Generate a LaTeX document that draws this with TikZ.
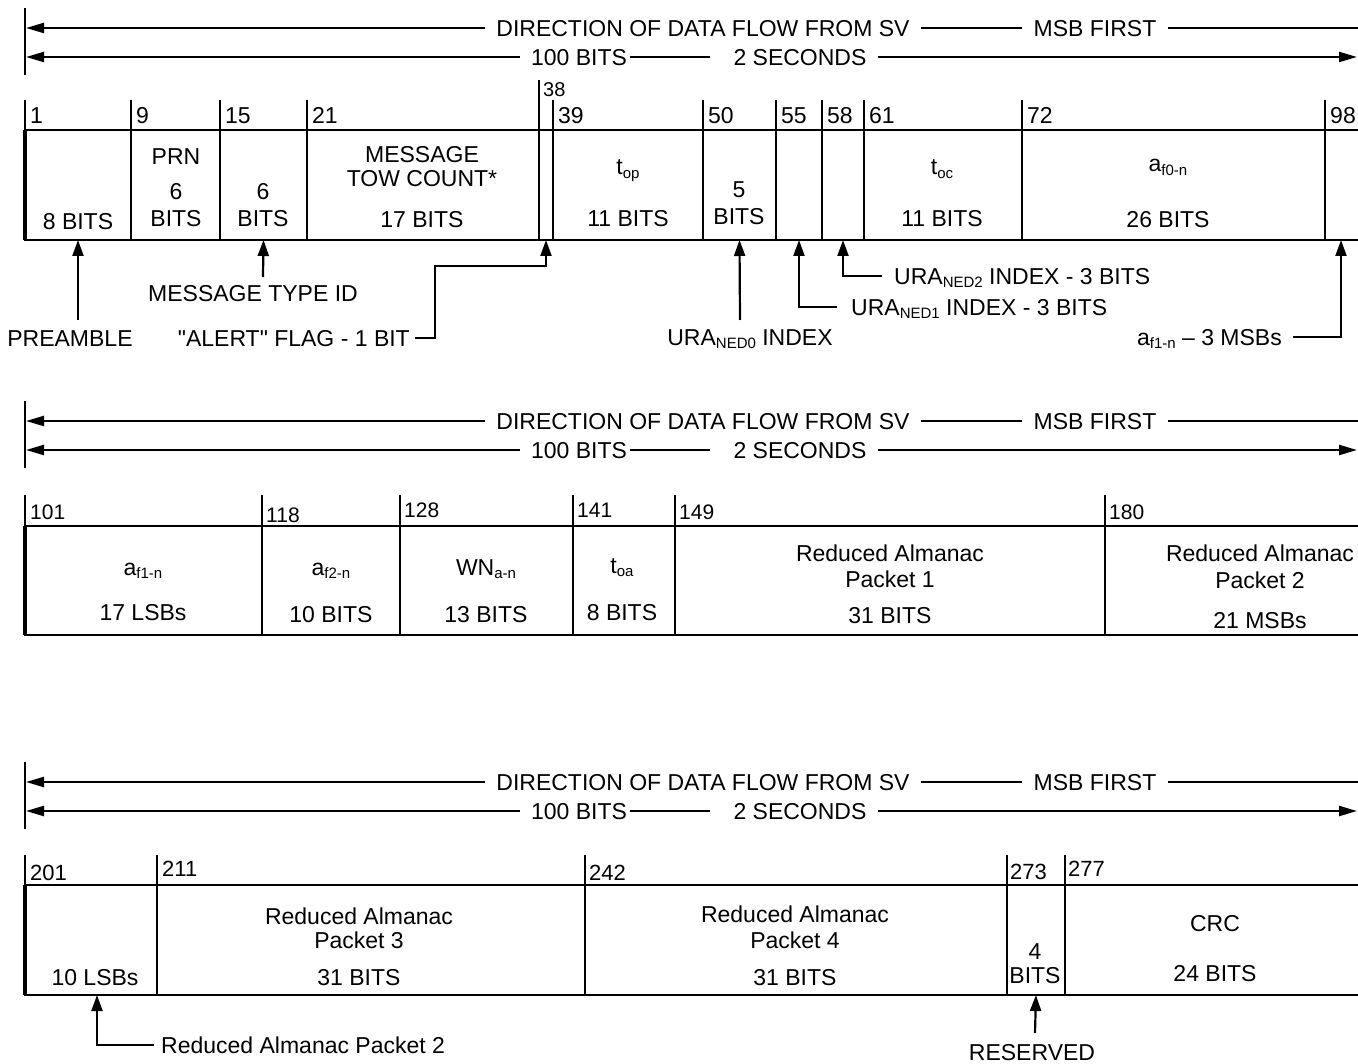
\documentclass[tikz,border=0pt]{standalone}
\usepackage{fontspec}
\setmainfont{Liberation Sans}[Ligatures=TeXOff]
\usetikzlibrary{arrows.meta}
\newcommand\sbs[1]{\raisebox{-3.5pt}{\fontsize{15}{15}\selectfont #1}}
\newcommand\fcell[5]{\pgfmathsetmacro\cw{#3-#2}\pgfmathsetmacro\ch{#5-#4}%
  \node[cellbox, minimum width=\cw pt, minimum height=\ch pt] (#1) at (#2,#4) {};}
\newcommand\hdrblock[2]{%
  \begin{scope}[yshift=-#2pt]
    \coordinate (#1top) at (25,8);
    \coordinate (#1bot) at (25,75);
    \draw[bar] (#1top) -- (#1bot);
    \coordinate (#1L1) at (26,28);
    \coordinate (#1R1) at (1365,28);
    \coordinate (#1L2) at (26,57);
    \coordinate (#1R2) at (1357,57);
    \node[hdr] (#1dir) at (703,28) {DIRECTION OF DATA FLOW FROM SV};
    \node[hdr] (#1msb) at (1095,28) {MSB FIRST};
    \node[hdr] (#1bits) at (579,57) {100 BITS};
    \node[hdr] (#1sec) at (800,57) {2 SECONDS};
    \draw[hl] (#1L1) -- (#1dir);
    \draw[hline] (#1dir) -- (#1msb);
    \draw[hline] (#1msb) -- (#1R1);
    \draw[hl] (#1L2) -- (#1bits);
    \draw[hline] ([xshift=-8pt]#1bits.east) -- ([xshift=-12pt]#1sec.west);
    \draw[hr] (#1sec) -- (#1R2);
  \end{scope}}
\begin{document}
\begin{tikzpicture}[x=1pt,y=-1pt,
  txt/.style={font=\fontsize{23}{25}\selectfont, inner sep=0pt, text height=16.5pt, text depth=0pt, anchor=base},
  num/.style={font=\fontsize{23}{25}\selectfont, inner sep=0pt, anchor=base west},
  snum/.style={font=\fontsize{21}{23}\selectfont, inner sep=0pt, anchor=base west},
  tnum/.style={font=\fontsize{22}{24}\selectfont, inner sep=0pt, anchor=base west},
  hdr/.style={font=\fontsize{23}{25}\selectfont, inner xsep=11pt, inner ysep=0pt, text height=16.5pt, text depth=0pt, anchor=center},
  ann/.style={font=\fontsize{23}{25}\selectfont, inner xsep=0pt, inner ysep=0pt, text height=16.5pt, text depth=0pt, anchor=center},
  cellbox/.style={draw, line width=2.5pt, inner sep=0pt, outer sep=0pt, anchor=north west},
  edge/.style={line width=3.5pt},
  tick/.style={line width=2.5pt},
  bar/.style={line width=2.5pt},
  hline/.style={line width=2.2pt},
  hl/.style={hline, {Triangle[length=18pt,width=10pt]}-},
  hr/.style={hline, -{Triangle[length=18pt,width=10pt]}},
  up/.style={line width=2.2pt, -{Triangle[length=16pt,width=11pt]}},
]
\useasboundingbox (0,0) rectangle (1358,1064);
\fill[white] (0,0) rectangle (1358,1064);

% ---------------- headers ----------------
\hdrblock{h1}{0}
\hdrblock{h2}{393}
\hdrblock{h3}{754}

% ---------------- row 1 ----------------
\fcell{a1}{25}{131}{130}{240}
\fcell{a2}{131}{220}{130}{240}
\fcell{a3}{220}{307}{130}{240}
\fcell{a4}{307}{539}{130}{240}
\fcell{a5}{539}{553}{130}{240}
\fcell{a6}{553}{703}{130}{240}
\fcell{a7}{703}{776}{130}{240}
\fcell{a8}{776}{822}{130}{240}
\fcell{a9}{822}{864}{130}{240}
\fcell{a10}{864}{1022}{130}{240}
\fcell{a11}{1022}{1325}{130}{240}
\fcell{a12}{1325}{1385}{130}{240}
\draw[edge] (a1.north west) -- (a1.south west);
\foreach \c in {a1,a2,a3,a4,a6,a7,a8,a9,a10,a11,a12}
  \draw[tick] (\c.north west) -- ++(0,-30);
\draw[tick] (a5.north west) -- ++(0,-50);

\node[num] (n1) at (30,124) {1};
\node[num] (n9) at (136,124) {9};
\node[num] (n15) at (225,124) {15};
\node[num] (n21) at (312,124) {21};
\node[font=\fontsize{20}{22}\selectfont, inner sep=0pt, anchor=base west] (n38) at (543,97) {38};
\node[num] (n39) at (558,124) {39};
\node[num] (n50) at (708,124) {50};
\node[num] (n55) at (781,124) {55};
\node[num] (n58) at (827,124) {58};
\node[num] (n61) at (869,124) {61};
\node[num] (n72) at (1027,124) {72};
\node[num] (n98) at (1330,124) {98};

\node[txt] (t1) at (78,230) {8 BITS};
\node[txt] (t2a) at (176,165) {PRN};
\node[txt] (t2b) at (176,200) {6};
\node[txt] (t2c) at (176,227) {BITS};
\node[txt] (t3a) at (263,200) {6};
\node[txt] (t3b) at (263,227) {BITS};
\node[txt] (t4a) at (422,163) {MESSAGE};
\node[txt] (t4b) at (422,187) {TOW COUNT*};
\node[txt] (t4c) at (422,228) {17 BITS};
\node[txt] (t6a) at (628,175) {t\sbs{op}};
\node[txt] (t6b) at (628,227) {11 BITS};
\node[txt] (t7a) at (739,198) {5};
\node[txt] (t7b) at (739,225) {BITS};
\node[txt] (t10a) at (942,175) {t\sbs{oc}};
\node[txt] (t10b) at (942,227) {11 BITS};
\node[txt] (t11a) at (1168,172) {a\sbs{f0-n}};
\node[txt] (t11b) at (1168,228) {26 BITS};

% annotations row 1
\node[ann] (pre) at (70,338) {PREAMBLE};
\coordinate (preS) at (78,320);
\draw[up] (preS) -- (a1.south);
\node[ann] (mtid) at (253,293) {MESSAGE TYPE ID};
\coordinate (mtS) at (263,277);
\draw[up] (mtS) -- (a3.south);
\node[ann, anchor=east] (alert) at (410,338) {"ALERT" FLAG - 1 BIT};
\coordinate (alK) at (435,266);
\draw[up] ([xshift=5pt]alert.east) -| (alK) -| (a5.south);
\node[ann] (ura0) at (750,337) {URA\sbs{NED0} INDEX};
\coordinate (u0S) at (740,320);
\draw[up] (u0S) -- (a7.south);
\node[ann, anchor=west] (ura1) at (851,307) {URA\sbs{NED1} INDEX - 3 BITS};
\draw[up] ([xshift=-14pt]ura1.west) -| (a8.south);
\node[ann, anchor=west] (ura2) at (894,276) {URA\sbs{NED2} INDEX - 3 BITS};
\draw[up] ([xshift=-12pt]ura2.west) -| (a9.south);
\node[ann, anchor=east] (af1) at (1282,337) {a\sbs{f1-n} – 3 MSBs};
\coordinate (afT) at (1341,240);
\draw[up] ([xshift=11pt]af1.east) -| (afT);

% ---------------- row 2 ----------------
\fcell{b1}{25}{262}{526}{635}
\fcell{b2}{262}{400}{526}{635}
\fcell{b3}{400}{573}{526}{635}
\fcell{b4}{573}{675}{526}{635}
\fcell{b5}{675}{1105}{526}{635}
\fcell{b6}{1105}{1385}{526}{635}
\draw[edge] (b1.north west) -- (b1.south west);
\foreach \c in {b1,b2,b3,b4,b5,b6}
  \draw[tick] (\c.north west) -- ++(0,-31);

\node[snum] (n101) at (30,519) {101};
\node[snum] (n118) at (266,522) {118};
\node[snum] (n128) at (404,518) {128};
\node[snum] (n141) at (577,518) {141};
\node[snum] (n149) at (679,519) {149};
\node[snum] (n180) at (1109,519) {180};

\node[txt] (u1a) at (143,575) {a\sbs{f1-n}};
\node[txt] (u1b) at (143,620) {17 LSBs};
\node[txt] (u2a) at (331,575) {a\sbs{f2-n}};
\node[txt] (u2b) at (331,622) {10 BITS};
\node[txt] (u3a) at (486,575) {WN\sbs{a-n}};
\node[txt] (u3b) at (486,622) {13 BITS};
\node[txt] (u4a) at (622,573) {t\sbs{oa}};
\node[txt] (u4b) at (622,620) {8 BITS};
\node[txt] (u5a) at (890,561) {Reduced Almanac};
\node[txt] (u5b) at (890,587) {Packet 1};
\node[txt] (u5c) at (890,623) {31 BITS};
\node[txt] (u6a) at (1260,561) {Reduced Almanac};
\node[txt] (u6b) at (1260,588) {Packet 2};
\node[txt] (u6c) at (1260,628) {21 MSBs};

% ---------------- row 3 ----------------
\fcell{c1}{25}{157}{885}{995}
\fcell{c2}{157}{585}{885}{995}
\fcell{c3}{585}{1007}{885}{995}
\fcell{c4}{1007}{1065}{885}{995}
\fcell{c5}{1065}{1385}{885}{995}
\draw[edge] (c1.north west) -- (c1.south west);
\foreach \c in {c1,c2,c3,c4,c5}
  \draw[tick] (\c.north west) -- ++(0,-30);

\node[tnum] (n201) at (30,880) {201};
\node[tnum] (n211) at (162,876) {211};
\node[tnum] (n242) at (589,880) {242};
\node[tnum] (n273) at (1010,879) {273};
\node[tnum] (n277) at (1068,876) {277};

\node[txt] (v1) at (95,985) {10 LSBs};
\node[txt] (v2a) at (359,924) {Reduced Almanac};
\node[txt] (v2b) at (359,948) {Packet 3};
\node[txt] (v2c) at (359,985) {31 BITS};
\node[txt] (v3a) at (795,922) {Reduced Almanac};
\node[txt] (v3b) at (795,948) {Packet 4};
\node[txt] (v3c) at (795,985) {31 BITS};
\node[txt] (v4a) at (1035,959) {4};
\node[txt] (v4b) at (1035,983) {BITS};
\node[txt] (v5a) at (1215,931) {CRC};
\node[txt] (v5b) at (1215,981) {24 BITS};

% annotations row 3
\node[ann, anchor=west] (rap2) at (161,1045) {Reduced Almanac Packet 2};
\coordinate (rapT) at (97,995);
\draw[up] ([xshift=-7pt]rap2.west) -| (rapT);
\node[ann] (res) at (1032,1052) {RESERVED};
\coordinate (resS) at (1035,1033);
\draw[up] (resS) -- (c4.south);
\end{tikzpicture}
\end{document}
